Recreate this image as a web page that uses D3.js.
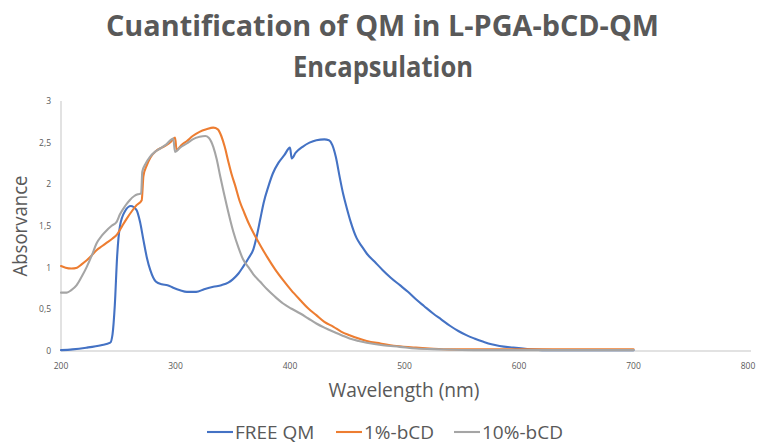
<!DOCTYPE html>
<html>
<head>
<meta charset="utf-8">
<script src="https://cdn.jsdelivr.net/npm/d3@7.9.0/dist/d3.min.js"></script>
<style>
  html, body { margin: 0; padding: 0; background: #fff; }
  svg { display: block; font-family: 'Open Sans', 'Noto Sans', sans-serif; }
</style>
</head>
<body>
<svg id="chart" width="758" height="444"></svg>
<script>
// series: [wavelength nm, absorbance]
const freeQM = [
  [200, 0.01], [210, 0.02], [222, 0.04], [235, 0.07], [243, 0.10], [245, 0.20], [247, 0.55],
  [249, 1.13], [251.5, 1.50], [256, 1.68], [261, 1.74], [266, 1.69], [269, 1.55], [272, 1.33],
  [275, 1.12], [278, 0.97], [283, 0.83], [288, 0.80], [293, 0.79], [298, 0.76], [304, 0.73],
  [310, 0.71], [318, 0.71], [325, 0.74], [333, 0.77], [340, 0.79], [346, 0.82], [350, 0.86],
  [355, 0.93], [359, 1.01], [364, 1.12], [368, 1.22], [371, 1.38], [374, 1.58], [377, 1.78],
  [381, 1.97], [385, 2.13], [390, 2.26], [395, 2.35], [400, 2.44], [401.5, 2.31], [405, 2.38],
  [411, 2.45], [417, 2.50], [423, 2.53], [430, 2.54], [434, 2.53], [437, 2.47], [440, 2.33],
  [443.5, 2.08], [446.5, 1.88], [449.5, 1.72], [453, 1.55], [458, 1.36], [463, 1.25], [467, 1.17],
  [474, 1.07], [481, 0.97], [488, 0.88], [496, 0.79], [503, 0.71], [510, 0.62], [517, 0.54],
  [525, 0.45], [532, 0.38], [540, 0.30], [547, 0.24], [554, 0.19], [561, 0.15], [569, 0.11],
  [576, 0.08], [583, 0.06], [595, 0.04], [610, 0.02], [630, 0.01], [700, 0.01]
];
const bcd1 = [
  [200, 1.02], [204, 1.00], [209, 0.99], [214, 1.00], [218, 1.04], [222.5, 1.09], [227, 1.15],
  [231, 1.21], [236, 1.26], [240, 1.30], [245, 1.35], [249, 1.40], [253, 1.49], [257, 1.58],
  [262, 1.68], [266, 1.75], [270.5, 1.81], [272, 2.10], [275, 2.23], [278, 2.32], [283, 2.40],
  [288, 2.44], [292, 2.47], [296, 2.51], [299.6, 2.56], [301, 2.41], [305, 2.47], [310, 2.52],
  [315, 2.58], [321, 2.63], [327, 2.66], [333, 2.68], [337, 2.66], [340, 2.58], [343, 2.45],
  [346, 2.28], [349, 2.12], [352, 1.99], [356, 1.80], [360, 1.66], [364, 1.53], [368, 1.42],
  [374, 1.27], [380, 1.13], [387, 0.98], [394, 0.85], [401, 0.73], [409, 0.61], [416, 0.51],
  [423, 0.43], [430, 0.35], [438, 0.29], [445, 0.23], [452, 0.19], [460, 0.15], [467, 0.12],
  [479, 0.09], [493, 0.06], [510, 0.04], [522, 0.03], [540, 0.02], [600, 0.02], [700, 0.02]
];
const bcd10 = [
  [200, 0.70], [205, 0.70], [209, 0.73], [213.7, 0.79], [218, 0.89], [222.5, 1.01], [227, 1.15],
  [231, 1.29], [236, 1.39], [240, 1.45], [244, 1.50], [248.6, 1.55], [251.5, 1.64], [256, 1.74],
  [260, 1.81], [264, 1.86], [267, 1.88], [270, 1.89], [271, 2.15], [274, 2.25], [277.7, 2.33],
  [282, 2.39], [286.5, 2.43], [292, 2.48], [298, 2.55], [299.6, 2.39], [304, 2.44], [309.8, 2.49],
  [315, 2.54], [321, 2.57], [326, 2.58], [329, 2.56], [333, 2.45], [336, 2.30], [339, 2.10],
  [342, 1.91], [345, 1.73], [348, 1.56], [350.5, 1.43], [355, 1.24], [359, 1.10], [364, 1.00],
  [368, 0.92], [374, 0.83], [380, 0.74], [387, 0.65], [394, 0.57], [401, 0.51], [409, 0.45],
  [416, 0.39], [423, 0.33], [430, 0.28], [438, 0.23], [445, 0.19], [452, 0.15], [460, 0.12],
  [467, 0.10], [481, 0.07], [496, 0.05], [510, 0.03], [530, 0.02], [560, 0.01], [700, 0.01]
];

const seriesNames  = ['FREE QM', '1%-bCD', '10%-bCD'];
const seriesColors = ['#4472C4', '#ED7D31', '#A5A5A5'];
const seriesData   = [freeQM, bcd1, bcd10];

const xTicks = [200, 300, 400, 500, 600, 700, 800];
const yTicks = [0, 0.5, 1, 1.5, 2, 2.5, 3];
const yTickLabels = ['0', '0,5', '1', '1,5', '2', '2,5', '3'];

const titleLines = ['Cuantification of QM in L-PGA-bCD-QM', 'Encapsulation'];
const xTitle = 'Wavelength (nm)';
const yTitle = 'Absorvance';

const svg = d3.select('#chart');
const TXT = '#595959';

const x = d3.scaleLinear().domain([200, 800]).range([61, 748]);
const y = d3.scaleLinear().domain([0, 3]).range([351, 101]);

// squeeze a text to a target width if the installed font runs wider/narrower
function fitWidth(sel, w) {
  const n = sel.node().getComputedTextLength();
  if (Math.abs(n - w) > 2) sel.attr('textLength', w).attr('lengthAdjust', 'spacingAndGlyphs');
}

// title
const tl1 = svg.append('text').attr('x', 382.5).attr('y', 35.5)
  .attr('text-anchor', 'middle').attr('fill', TXT)
  .attr('font-size', 29).attr('font-weight', 700).text(titleLines[0]);
fitWidth(tl1, 553);
const tl2 = svg.append('text').attr('x', 383).attr('y', 76.5)
  .attr('text-anchor', 'middle').attr('fill', TXT)
  .attr('font-size', 29).attr('font-weight', 700).text(titleLines[1]);
fitWidth(tl2, 180);

// axis lines
svg.append('line').attr('x1', x(200)).attr('x2', x(200)).attr('y1', y(3)).attr('y2', y(0))
  .attr('stroke', '#D9D9D9').attr('stroke-width', 1.5);
svg.append('line').attr('x1', x(200)).attr('x2', x(800) + 3).attr('y1', y(0)).attr('y2', y(0))
  .attr('stroke', '#D9D9D9').attr('stroke-width', 1.5);

// tick labels
svg.append('g').selectAll('text').data(yTicks).join('text')
  .attr('x', 51).attr('y', d => y(d)).attr('dy', '0.35em')
  .attr('text-anchor', 'end').attr('fill', TXT).attr('font-size', 8.5)
  .text((d, i) => yTickLabels[i]);
svg.append('g').selectAll('text').data(xTicks).join('text')
  .attr('x', d => x(d)).attr('y', 369)
  .attr('text-anchor', 'middle').attr('fill', TXT).attr('font-size', 8.5)
  .text(d => d);

// axis titles
const xt = svg.append('text').attr('x', 404).attr('y', 396.5)
  .attr('text-anchor', 'middle').attr('fill', TXT).attr('font-size', 20).text(xTitle);
fitWidth(xt, 151);
const yt = svg.append('text').attr('transform', 'translate(27,226) rotate(-90)')
  .attr('text-anchor', 'middle').attr('fill', TXT).attr('font-size', 20).text(yTitle);
fitWidth(yt, 101);

// lines
const line = d3.line().x(d => x(d[0])).y(d => y(d[1])).curve(d3.curveMonotoneX);
svg.append('g').selectAll('path').data(seriesData).join('path')
  .attr('d', line)
  .attr('fill', 'none')
  .attr('stroke', (d, i) => seriesColors[i])
  .attr('stroke-width', 2.1)
  .attr('stroke-linejoin', 'round')
  .attr('stroke-linecap', 'round');

// legend
const legendY = 432;
const legendWidths = [81, 70, 80];
const lg = svg.append('g');
let lx = 207;
seriesNames.forEach((name, i) => {
  lg.append('line').attr('x1', lx).attr('x2', lx + 26).attr('y1', legendY).attr('y2', legendY)
    .attr('stroke', seriesColors[i]).attr('stroke-width', 2.1);
  const t = lg.append('text').attr('x', lx + 28).attr('y', legendY).attr('dy', '0.35em')
    .attr('fill', TXT).attr('font-size', 19).text(name);
  fitWidth(t, legendWidths[i]);
  lx += 28 + legendWidths[i] + 20;
});
</script>
</body>
</html>
